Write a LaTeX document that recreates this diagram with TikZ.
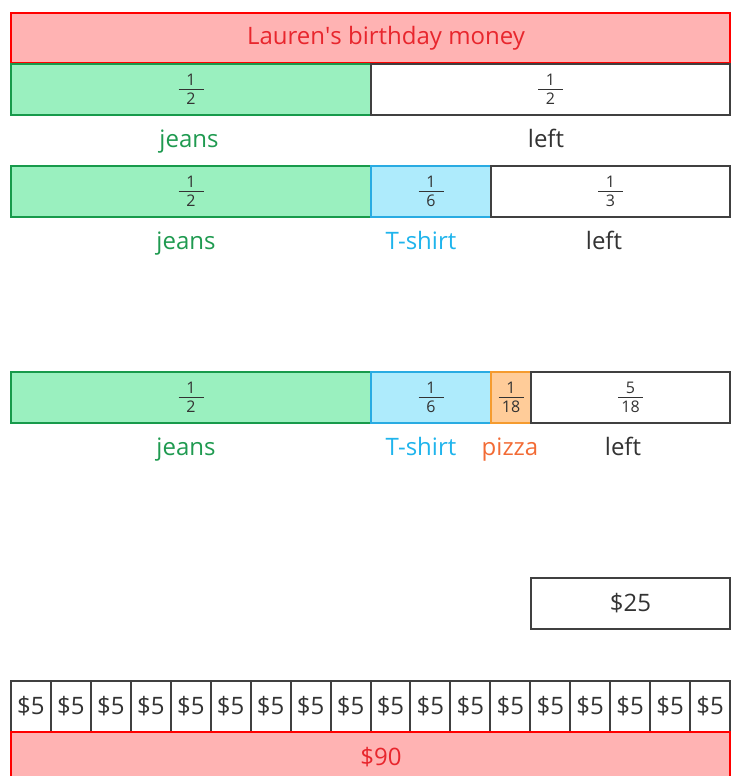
\documentclass[tikz,border=0pt]{standalone}
\usepackage{fontspec}
\setmainfont{Open Sans}
\definecolor{redfill}{HTML}{FFB3B3}
\definecolor{redline}{HTML}{FF0000}
\definecolor{redtext}{HTML}{E8262D}
\definecolor{greenfill}{HTML}{9AF0BF}
\definecolor{greenline}{HTML}{179A4B}
\definecolor{greentext}{HTML}{1F9A50}
\definecolor{bluefill}{HTML}{AEEBFC}
\definecolor{blueline}{HTML}{29ABE2}
\definecolor{bluetext}{HTML}{1FB4EC}
\definecolor{orangefill}{HTML}{FFCC99}
\definecolor{orangeline}{HTML}{F59B2F}
\definecolor{orangetext}{HTML}{F26B35}
\definecolor{darkline}{HTML}{404040}
\definecolor{darktext}{HTML}{333333}
\newcommand\fr[2]{\vbox{\hsize=25pt\centering\fontsize{16}{18}\selectfont #1\par\nointerlineskip\vskip3.5pt\hrule height 0.8pt\vskip3.5pt\nointerlineskip #2\par}}
\begin{document}
\begin{tikzpicture}[x=1pt,y=-1pt,
  bx/.style={draw, line width=2pt, anchor=north west, inner sep=0pt,
    minimum height=51pt, minimum width=#1, text=darktext},
  white/.style={fill=white, draw=darkline},
  red/.style={fill=redfill, draw=redline},
  green/.style={fill=greenfill, draw=greenline},
  blue/.style={fill=bluefill, draw=blueline},
  orange/.style={fill=orangefill, draw=orangeline},
  big/.style={font=\fontsize{24}{27}\selectfont},
  lbl/.style={big, anchor=base, inner sep=0pt}]
\useasboundingbox (0,0) rectangle (732,776);
\clip (0,0) rectangle (732,776);
% title
\node[bx=719pt, red, minimum height=50pt] (title) at (10,12) {};
\node[lbl, text=redtext] (titletext) at (386,44.5) {Lauren\textquotesingle s birthday money};
% row 1
\node[bx=360pt, green] (r1jeans) at (10,63) {\fr{1}{2}};
\node[bx=359pt, white] (r1left) at (370,63) {\fr{1}{2}};
\node[lbl, text=greentext] (l1jeans) at (189,147) {jeans};
\node[lbl, text=darktext] (l1left) at (546,147) {left};
% row 2
\node[bx=360pt, green] (r2jeans) at (10,165) {\fr{1}{2}};
\node[bx=120pt, blue] (r2shirt) at (370,165) {\fr{1}{6}};
\node[bx=239pt, white] (r2left) at (490,165) {\fr{1}{3}};
\node[lbl, text=greentext] (l2jeans) at (186,249.5) {jeans};
\node[lbl, text=bluetext] (l2shirt) at (421,249.5) {T-shirt};
\node[lbl, text=darktext] (l2left) at (604,249.5) {left};
% row 3
\node[bx=360pt, green] (r3jeans) at (10,371) {\fr{1}{2}};
\node[bx=120pt, blue] (r3shirt) at (370,371) {\fr{1}{6}};
\node[bx=40pt, orange] (r3pizza) at (490,371) {\fr{1}{18}};
\node[bx=199pt, white] (r3left) at (530,371) {\fr{5}{18}};
\node[lbl, text=greentext] (l3jeans) at (186,455.5) {jeans};
\node[lbl, text=bluetext] (l3shirt) at (421,455.5) {T-shirt};
\node[lbl, text=orangetext] (l3pizza) at (510,455.5) {pizza};
\node[lbl, text=darktext] (l3left) at (623,455.5) {left};
% $25
\node[bx=199pt, white, big] (twentyfive) at (530,577) {\$25};
% $5 row
\foreach \i in {0,...,17}{
  \node[bx=39.944pt, white, big] (five\i) at ({10+\i*39.944},680) {\$5};
}
% $90
\node[bx=719pt, red, minimum height=50pt] (ninety) at (10,731) {};
\node[lbl, text=redtext] (ninetytext) at (381,765) {\$90};
\end{tikzpicture}
\end{document}
